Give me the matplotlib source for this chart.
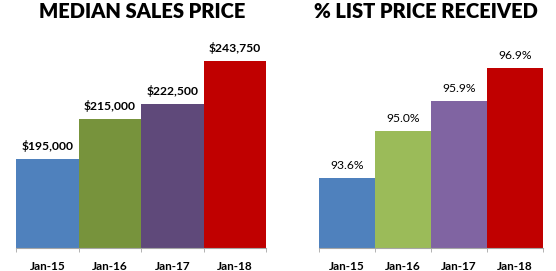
import matplotlib.pyplot as plt
import numpy as np

plt.rcParams['font.family'] = ['Lato', 'DejaVu Sans']

# data
months = ['Jan-15', 'Jan-16', 'Jan-17', 'Jan-18']
median_price = [195000, 215000, 222500, 243750]
pct_list_price = [93.6, 95.0, 95.9, 96.9]

price_colors = ['#4F81BD', '#77933C', '#5F497A', '#C00000']
pct_colors = ['#4F81BD', '#9BBB59', '#8064A2', '#C00000']

W, H = 556, 271
fig = plt.figure(figsize=(W / 100, H / 100), dpi=100)


def make_axes(x0, x1, ylim):
    # pixel box -> figure fraction, baseline at y=248 from the top
    ax = fig.add_axes([x0 / W, (H - 248) / H, (x1 - x0) / W, 200 / H])
    ax.set_ylim(*ylim)
    ax.set_xlim(-0.5, len(months) - 0.5)
    for s in ['top', 'right', 'left']:
        ax.spines[s].set_visible(False)
    ax.spines['bottom'].set_color('#A6A6A6')
    ax.set_yticks([])
    ax.set_xticks(range(len(months)))
    ax.set_xticklabels(months, fontsize=8.5, fontweight='bold')
    ax.tick_params(axis='x', length=0, pad=9)
    ax.set_xticks(np.arange(-0.5, len(months)), minor=True)
    ax.tick_params(axis='x', which='minor', length=3, color='#A6A6A6')
    return ax


# left: median sales price
ax1 = make_axes(16, 266, (150700, 250200))
ax1.bar(range(len(months)), median_price, width=1.0, color=price_colors)
for i, v in enumerate(median_price):
    ax1.annotate(f'${v:,}', (i, v), xytext=(0, 5), textcoords='offset points',
                 ha='center', va='bottom', fontsize=8.7, fontweight='bold',
                 annotation_clip=False)
fig.text(142 / W, 1 - 11 / H, 'MEDIAN SALES PRICE', ha='center', va='center',
         fontsize=14.5, fontweight='heavy')

# right: % list price received
ax2 = make_axes(319, 543, (91.5, 97.5))
ax2.bar(range(len(months)), pct_list_price, width=1.0, color=pct_colors)
for i, v in enumerate(pct_list_price):
    ax2.annotate(f'{v:.1f}%', (i, v), xytext=(0, 5), textcoords='offset points',
                 ha='center', va='bottom', fontsize=8.7,
                 annotation_clip=False)
fig.text(426 / W, 1 - 11 / H, '% LIST PRICE RECEIVED', ha='center', va='center',
         fontsize=14.5, fontweight='heavy')

fig.savefig('out.png', dpi=100)
